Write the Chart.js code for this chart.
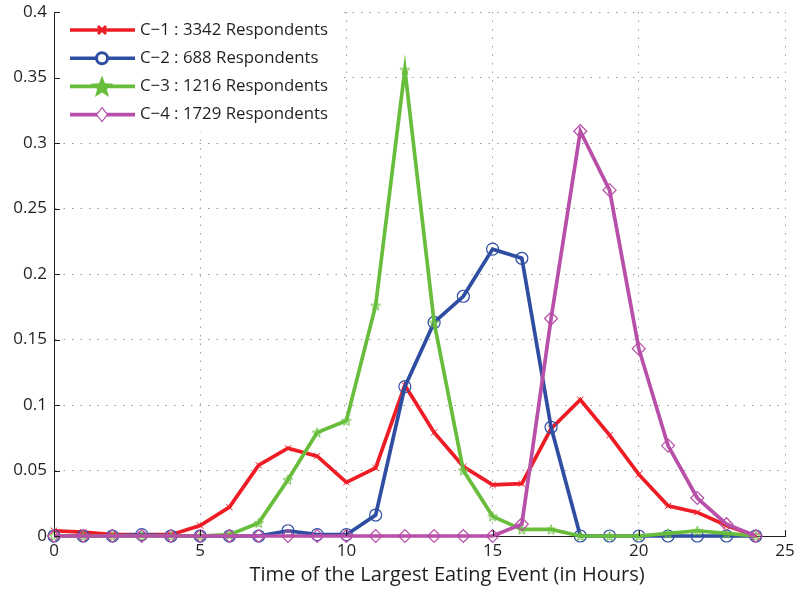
<!DOCTYPE html>
<html>
<head>
<meta charset="utf-8">
<script src="https://cdn.jsdelivr.net/npm/chart.js@4/dist/chart.umd.min.js"></script>
<style>
  html, body { margin: 0; padding: 0; background: #fff; }
  #wrap { width: 796px; height: 593px; }
</style>
</head>
<body>
<div id="wrap"><canvas id="c" width="796" height="593"></canvas></div>
<script>
// Share of respondents by hour of their largest eating event, per cluster
const hours = [0,1,2,3,4,5,6,7,8,9,10,11,12,13,14,15,16,17,18,19,20,21,22,23,24];
const c1 = [0.004,0.003,0.001,0.001,0.001,0.008,0.022,0.054,0.067,0.061,0.041,0.052,0.115,0.079,0.053,0.039,0.040,0.082,0.104,0.077,0.047,0.023,0.018,0.008,0.000];
const c2 = [0.000,0.000,0.000,0.001,0.000,0.000,0.000,0.000,0.004,0.001,0.001,0.016,0.114,0.163,0.183,0.219,0.212,0.083,0.000,0.000,0.000,0.000,0.000,0.000,0.000];
const c3 = [0.000,0.000,0.000,0.000,0.000,0.000,0.001,0.010,0.043,0.079,0.088,0.176,0.356,0.163,0.050,0.015,0.005,0.005,0.000,0.000,0.000,0.002,0.004,0.002,0.000];
const c4 = [0.000,0.000,0.000,0.000,0.000,0.000,0.000,0.000,0.000,0.000,0.000,0.000,0.000,0.000,0.000,0.000,0.009,0.166,0.309,0.264,0.143,0.069,0.029,0.009,0.000];
const seriesNames = ['C\u22121 : 3342 Respondents','C\u22122 : 688 Respondents','C\u22123 : 1216 Respondents','C\u22124 : 1729 Respondents'];
const xTitle = 'Time of the Largest Eating Event (in Hours)';
const xTicks = [0,5,10,15,20,25];
const yTicks = [0,0.05,0.1,0.15,0.2,0.25,0.3,0.35,0.4];
const yTickLabels = ['0','0.05','0.1','0.15','0.2','0.25','0.3','0.35','0.4'];

const RED = '#ee1d25', BLUE = '#2f4ea2', GREEN = '#68bd3c', MAG = '#b84fa8';
const INK = '#231f20';
const FONT = '"Open Sans", "Noto Sans", sans-serif';

// five-pointed star path
function starPath(ctx, cx, cy, R, r) {
  ctx.beginPath();
  for (let i = 0; i < 10; i++) {
    const rad = (i % 2 === 0) ? R : r;
    const a = -Math.PI / 2 + i * Math.PI / 5;
    const px = cx + rad * Math.cos(a), py = cy + rad * Math.sin(a);
    if (i === 0) ctx.moveTo(px, py); else ctx.lineTo(px, py);
  }
  ctx.closePath();
}
function starMarker(size, color) {
  const cv = document.createElement('canvas');
  cv.width = size; cv.height = size;
  const g = cv.getContext('2d');
  g.strokeStyle = color; g.lineWidth = 1;
  starPath(g, size / 2, size / 2 + 0.5, size / 2 - 1, (size / 2 - 1) * 0.42);
  g.stroke();
  return cv;
}

const boxLegend = {
  id: 'boxLegend',
  afterDraw(chart) {
    const ctx = chart.ctx, a = chart.chartArea;
    ctx.save();
    ctx.fillStyle = '#fff';
    ctx.fillRect(a.left + 1, a.top - 2, 287, 122);
    const colors = [RED, BLUE, GREEN, MAG];
    for (let i = 0; i < 4; i++) {
      const y = a.top + 18 + i * 28.2;
      const x0 = a.left + 16, x1 = a.left + 81, xm = a.left + 48;
      ctx.strokeStyle = colors[i]; ctx.lineWidth = 3.6; ctx.lineCap = 'butt';
      ctx.beginPath(); ctx.moveTo(x0, y); ctx.lineTo(x1, y); ctx.stroke();
      if (i === 0) {
        ctx.lineWidth = 3;
        ctx.beginPath();
        ctx.moveTo(xm - 4, y - 4); ctx.lineTo(xm + 4, y + 4);
        ctx.moveTo(xm - 4, y + 4); ctx.lineTo(xm + 4, y - 4);
        ctx.stroke();
      } else if (i === 1) {
        ctx.lineWidth = 3; ctx.fillStyle = '#fff';
        ctx.beginPath(); ctx.arc(xm, y, 5.5, 0, Math.PI * 2); ctx.fill(); ctx.stroke();
      } else if (i === 2) {
        ctx.fillStyle = GREEN;
        starPath(ctx, xm, y + 1, 12, 5); ctx.fill();
      } else {
        ctx.lineWidth = 1.2; ctx.fillStyle = '#fff';
        ctx.beginPath();
        ctx.moveTo(xm, y - 7); ctx.lineTo(xm + 5.5, y); ctx.lineTo(xm, y + 7); ctx.lineTo(xm - 5.5, y);
        ctx.closePath(); ctx.fill(); ctx.stroke();
      }
      ctx.fillStyle = INK;
      ctx.font = '16.8px ' + FONT;
      ctx.textBaseline = 'middle'; ctx.textAlign = 'left';
      ctx.fillText(seriesNames[i], a.left + 86, y);
    }
    // inward tick marks on both axes
    const xs = chart.scales.x, ys = chart.scales.y;
    ctx.strokeStyle = INK; ctx.lineWidth = 1;
    ctx.beginPath();
    xTicks.forEach(v => { const px = Math.round(xs.getPixelForValue(v)) + 0.5; ctx.moveTo(px, a.bottom); ctx.lineTo(px, a.bottom - 6); });
    yTicks.forEach(v => { const py = Math.round(ys.getPixelForValue(v)) + 0.5; ctx.moveTo(a.left, py); ctx.lineTo(a.left + 6, py); });
    ctx.stroke();
    // x-axis title
    ctx.fillStyle = INK;
    ctx.font = '20px ' + FONT;
    ctx.textAlign = 'center'; ctx.textBaseline = 'middle';
    ctx.fillText(xTitle, 447, 575);
    ctx.restore();
  }
};

const common = { borderWidth: 3.7, fill: false, tension: 0, pointHoverRadius: 6, clip: false };

new Chart(document.getElementById('c'), {
  type: 'line',
  data: {
    labels: hours,
    datasets: [
      Object.assign({ label: seriesNames[0], data: hours.map((h, i) => ({x: h, y: c1[i]})), borderColor: RED,
        pointStyle: 'crossRot', pointRadius: 4.5, pointBorderWidth: 1, pointBorderColor: RED, order: 4 }, common),
      Object.assign({ label: seriesNames[1], data: hours.map((h, i) => ({x: h, y: c2[i]})), borderColor: BLUE,
        pointStyle: 'circle', pointRadius: 6, pointBorderWidth: 1.2, pointBorderColor: BLUE, pointBackgroundColor: 'rgba(0,0,0,0)', order: 3 }, common),
      Object.assign({ label: seriesNames[2], data: hours.map((h, i) => ({x: h, y: c3[i]})), borderColor: GREEN,
        pointStyle: starMarker(12, GREEN), order: 2 }, common),
      Object.assign({ label: seriesNames[3], data: hours.map((h, i) => ({x: h, y: c4[i]})), borderColor: MAG,
        pointStyle: 'rectRot', pointRadius: 6.5, pointBorderWidth: 1.2, pointBorderColor: MAG, pointBackgroundColor: 'rgba(0,0,0,0)', order: 1 }, common)
    ]
  },
  options: {
    responsive: false,
    animation: false,
    layout: { padding: { top: 12, right: 11, left: 0, bottom: 0 } },
    plugins: { legend: { display: false }, tooltip: { enabled: false }, title: { display: false } },
    scales: {
      x: {
        type: 'linear', min: 0, max: 25,
        afterBuildTicks: s => { s.ticks = xTicks.map(v => ({ value: v })); },
        afterFit: s => { s.height = 57; s.paddingLeft = 0; s.paddingRight = 0; },
        ticks: { color: INK, font: { family: FONT, size: 17 }, padding: 5, maxRotation: 0,
          callback: v => String(v) },
        grid: { color: '#9a9a9a', lineWidth: 1, drawTicks: false },
        border: { display: true, color: INK, width: 1, dash: [1.5, 7] }
      },
      y: {
        type: 'linear', min: 0, max: 0.4,
        afterBuildTicks: s => { s.ticks = yTicks.map(v => ({ value: v })); },
        afterFit: s => { s.width = 54; s.paddingTop = 0; s.paddingBottom = 0; },
        ticks: { color: INK, font: { family: FONT, size: 17 }, padding: 7,
          callback: (v, i) => yTickLabels[i] },
        grid: { color: '#9a9a9a', lineWidth: 1, drawTicks: false },
        border: { display: true, color: INK, width: 1, dash: [1.5, 7] }
      }
    }
  },
  plugins: [boxLegend]
});
</script>
</body>
</html>
